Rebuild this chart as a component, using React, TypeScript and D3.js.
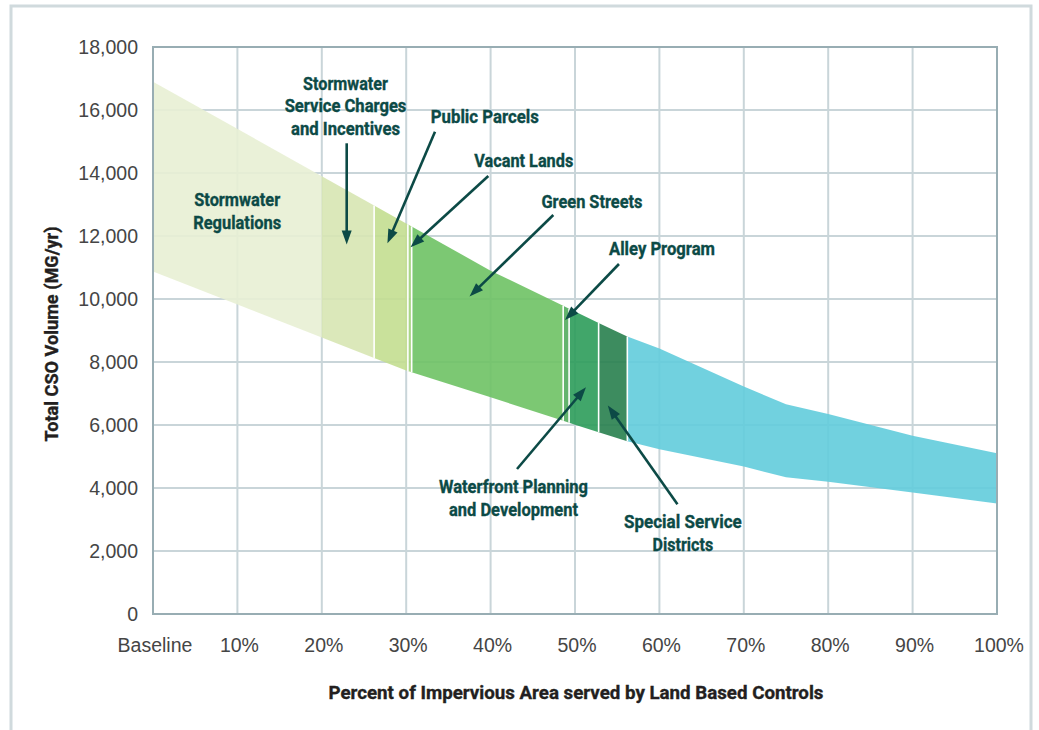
import React from 'react';
import * as d3 from 'd3';

// ---------- data ----------
const xTickValues = [0, 10, 20, 30, 40, 50, 60, 70, 80, 90, 100];
const xTickLabels = ['Baseline', '10%', '20%', '30%', '40%', '50%', '60%', '70%', '80%', '90%', '100%'];
const yTickValues = [0, 2000, 4000, 6000, 8000, 10000, 12000, 14000, 16000, 18000];

// envelope of total CSO volume (MG/yr) vs % impervious area served
const bandPct = [0, 30, 40, 50, 56, 60, 70, 75, 80, 90, 100];
const bandUpper = [16900, 12400, 10900, 9600, 8830, 8430, 7220, 6660, 6350, 5660, 5100];
const bandLower = [10870, 7730, 6880, 6010, 5500, 5230, 4680, 4340, 4200, 3860, 3510];

// programs as slices of the envelope
const programNames = [
  'Stormwater Regulations',
  'Stormwater Service Charges and Incentives',
  'Public Parcels',
  'Vacant Lands',
  'Green Streets',
  'Alley Program',
  'Waterfront Planning and Development',
  'Special Service Districts',
  'Remaining',
];
const programStart = [0, 20, 26.2, 30.2, 30.65, 48.6, 49.3, 52.8, 56.2];
const programEnd = [20, 26.2, 30.2, 30.65, 48.6, 49.3, 52.8, 56.2, 100];

// ---------- styles / layout ----------
const programColors = ['#e8efd4', '#d7e6b3', '#c3de90', '#a1d179', '#6ec264', '#52ac5d', '#2c9c5a', '#28804e', '#62ccdc'];

const annotations = [
  { lines: ['Stormwater', 'Service Charges', 'and Incentives'], at: [22.81, 16635], widths: [85, 121.7, 109], arrow: [[22.95, 14943], [22.95, 11730]] },
  { lines: ['Stormwater', 'Regulations'], at: [9.98, 12952], widths: [86, 88], arrow: null },
  { lines: ['Public Parcels'], at: [39.31, 15578], widths: [108], arrow: [[33.41, 15311], [27.78, 11768]] },
  { lines: ['Vacant Lands'], at: [43.93, 14181], widths: [99], arrow: [[39.73, 13905], [30.51, 11641]] },
  { lines: ['Green Streets'], at: [52.01, 12898], widths: [101], arrow: [[47.43, 12667], [37.5, 10079]] },
  { lines: ['Alley Program'], at: [60.31, 11387], widths: [106], arrow: [[55.21, 11111], [48.82, 9333]] },
  { lines: ['Waterfront Planning', 'and Development'], at: [42.71, 3841], widths: [149, 129], arrow: [[43.13, 4603], [51.3, 7197]] },
  { lines: ['Special Service', 'Districts'], at: [62.78, 2721], widths: [117.7, 60.6], arrow: [[62.14, 3483], [53.89, 6619]] },
];

const W = 1039;
const H = 730;
const plot = { left: 153, right: 997, top: 47, bottom: 614 };
const labelColor = '#0c4a46';
const boldFont = "Roboto, 'Liberation Sans', Arial, sans-serif";
const tickFont = "'Liberation Sans', Arial, Helvetica, sans-serif";

function Arrow({ from, to, x, y }: any) {
  const x1 = x(from[0]), y1 = y(from[1]);
  const x2 = x(to[0]), y2 = y(to[1]);
  const dx = x2 - x1, dy = y2 - y1;
  const len = Math.hypot(dx, dy);
  const ux = dx / len, uy = dy / len;
  const nx = -uy, ny = ux;
  const L = 14, hw = 5;
  const bx = x2 - ux * L, by = y2 - uy * L;
  const pts = [
    [x2, y2],
    [bx + nx * hw, by + ny * hw],
    [bx - nx * hw, by - ny * hw],
  ];
  return (
    <g>
      <line x1={x1} y1={y1} x2={bx + ux * 2} y2={by + uy * 2} stroke={labelColor} strokeWidth={2.6} />
      <polygon points={pts.map((p) => p.join(',')).join(' ')} fill={labelColor} />
    </g>
  );
}

export default function App() {
  const x = d3.scaleLinear().domain([0, 100]).range([plot.left, plot.right]);
  const y = d3.scaleLinear().domain([0, 18000]).range([plot.bottom, plot.top]);
  const upperAt = d3.scaleLinear().domain(bandPct).range(bandUpper);
  const lowerAt = d3.scaleLinear().domain(bandPct).range(bandLower);
  const fmt = d3.format(',');

  const area = d3
    .area<number>()
    .x((p) => x(p))
    .y0((p) => y(lowerAt(p)))
    .y1((p) => y(upperAt(p)));

  const segments = programNames.map((name, i) => {
    const s = programStart[i];
    const e = programEnd[i];
    const pts = [s, ...bandPct.filter((p) => p > s && p < e), e];
    return { name, d: area(pts) as string, color: programColors[i] };
  });

  const separators = programStart.slice(2);

  return (
    <svg width={W} height={H} style={{ position: 'absolute', left: 0, top: 0, background: '#fff' }}>
      {/* outer frame */}
      <path d={`M11,${H + 5} V6 H1031 V${H + 5}`} fill="none" stroke="#d0dadd" strokeWidth={3} />

      {/* grid */}
      {yTickValues.map((v) => (
        <line key={'gy' + v} x1={plot.left} x2={plot.right} y1={y(v)} y2={y(v)} stroke="#c9d5d9" strokeWidth={2} />
      ))}
      {xTickValues.map((v) => (
        <line key={'gx' + v} x1={x(v)} x2={x(v)} y1={plot.top} y2={plot.bottom} stroke="#c9d5d9" strokeWidth={2} />
      ))}

      {/* band slices */}
      {segments.map((s) => (
        <path key={s.name} d={s.d} fill={s.color} fillOpacity={0.9} />
      ))}
      {separators.map((p) => (
        <line key={'sep' + p} x1={x(p)} x2={x(p)} y1={y(lowerAt(p))} y2={y(upperAt(p))} stroke="#ffffff" strokeWidth={1.6} />
      ))}

      {/* plot border */}
      <rect x={plot.left} y={plot.top} width={plot.right - plot.left} height={plot.bottom - plot.top} fill="none" stroke="#98adb3" strokeWidth={2} />

      {/* y tick labels */}
      {yTickValues.map((v) => (
        <text key={'ty' + v} x={138} y={y(v)} dy="0.36em" textAnchor="end" fontFamily={tickFont} fontSize={19.5} fill="#454545">
          {fmt(v)}
        </text>
      ))}
      {/* x tick labels */}
      {xTickValues.map((v, i) => (
        <text key={'tx' + v} x={x(v) + 2} y={652} textAnchor="middle" fontFamily={tickFont} fontSize={19.5} fill="#454545">
          {xTickLabels[i]}
        </text>
      ))}

      {/* axis titles */}
      <text x={576} y={699} textAnchor="middle" fontFamily={boldFont} fontWeight={700} fontSize={18} fill="#231f20" stroke="#231f20" strokeWidth={0.35} textLength={495} lengthAdjust="spacingAndGlyphs">
        Percent of Impervious Area served by Land Based Controls
      </text>
      <text transform="translate(58,334) rotate(-90)" textAnchor="middle" fontFamily={boldFont} fontWeight={700} fontSize={18} fill="#231f20" stroke="#231f20" strokeWidth={0.35} textLength={215} lengthAdjust="spacingAndGlyphs">
        Total CSO Volume (MG/yr)
      </text>

      {/* annotations */}
      {annotations.map((a, i) => (
        <g key={'an' + i}>
          {a.arrow && <Arrow from={a.arrow[0]} to={a.arrow[1]} x={x} y={y} />}
          {a.lines.map((ln, j) => (
            <text
              key={j}
              x={x(a.at[0])}
              y={y(a.at[1]) + j * 22.5}
              textAnchor="middle"
              fontFamily={boldFont}
              fontWeight={700}
              fontSize={18}
              fill={labelColor}
              stroke={labelColor}
              strokeWidth={0.35}
              textLength={a.widths[j]}
              lengthAdjust="spacingAndGlyphs"
            >
              {ln}
            </text>
          ))}
        </g>
      ))}
    </svg>
  );
}
